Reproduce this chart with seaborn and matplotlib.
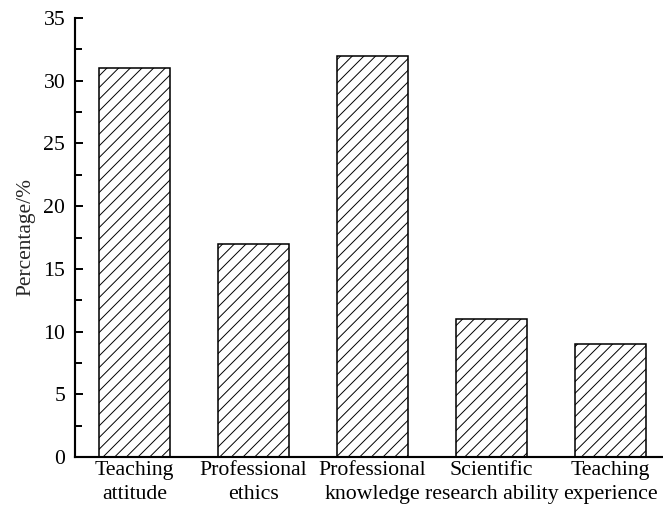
import matplotlib
matplotlib.use("Agg")
import matplotlib.pyplot as plt
import seaborn as sns
from matplotlib.ticker import MultipleLocator

# data
categories = ["Teaching\nattitude", "Professional\nethics", "Professional\nknowledge",
              "Scientific\nresearch ability", "Teaching\nexperience"]
percentages = [31, 17, 32, 11, 9]

sns.set_style("ticks")
plt.rcParams['font.family'] = ['Liberation Serif', 'DejaVu Serif']
plt.rcParams['hatch.linewidth'] = 0.5

DPI = 140
fig = plt.figure(figsize=(663 / DPI, 512 / DPI), dpi=DPI)
ax = fig.add_axes([75 / 663, 55 / 512, 595 / 663, 439 / 512])

sns.barplot(x=categories, y=percentages, color="white", edgecolor="black",
            linewidth=0.8, width=0.6, ax=ax, saturation=1)
for p in ax.patches:
    p.set_hatch("////")
    p.set_facecolor("white")

ax.set_ylim(0, 35)
ax.set_xlim(-0.5, 4.5)
ax.yaxis.set_major_locator(MultipleLocator(5))
ax.yaxis.set_minor_locator(MultipleLocator(2.5))
ax.set_ylabel("Percentage/%", fontsize=11, labelpad=4)
ax.set_xlabel("")

ax.tick_params(axis="both", which="both", direction="in", width=1, colors="black",
               labelsize=11.2)
ax.tick_params(axis="y", which="major", length=4, pad=5)
ax.tick_params(axis="y", which="minor", length=3.5)
ax.tick_params(axis="x", which="major", length=3.5, pad=2)
for lab in ax.get_xticklabels():
    lab.set_linespacing(1.35)

sns.despine(ax=ax)
for s in ["left", "bottom"]:
    ax.spines[s].set_linewidth(1.1)
    ax.spines[s].set_color("black")
ax.spines["bottom"].set_clip_on(False)

fig.savefig("out.png", dpi=DPI)
